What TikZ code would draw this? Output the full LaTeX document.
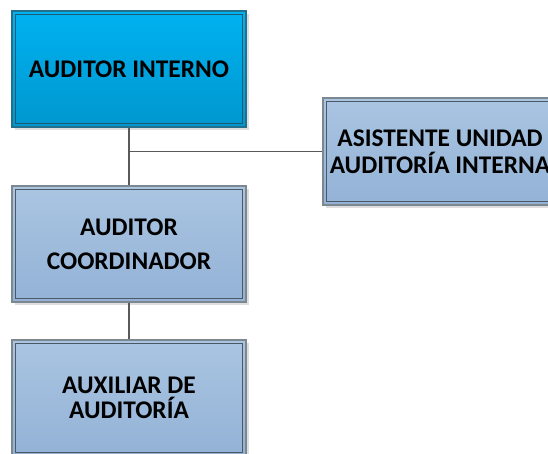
\documentclass[tikz,border=0pt]{standalone}
\usepackage{fontspec}
\setmainfont{Carlito}
\usetikzlibrary{shadows}
\definecolor{topblue}{HTML}{00B2F1}
\definecolor{botblue}{HTML}{0097CE}
\definecolor{bordblue}{HTML}{23708C}
\definecolor{innblue}{HTML}{1D5A72}
\definecolor{toplight}{HTML}{AAC5E2}
\definecolor{botlight}{HTML}{93B2D6}
\definecolor{bordgray}{HTML}{7D8790}
\definecolor{inngray}{HTML}{4C5864}
\definecolor{linegray}{HTML}{595959}
\definecolor{shadowgray}{HTML}{DEDEDE}
\tikzset{
  orgbox/.style={rectangle, minimum width=234pt, minimum height=116pt,
    inner sep=0pt, align=center, line width=1.5pt,
    drop shadow={shadow xshift=3pt, shadow yshift=-3pt, fill=shadowgray, opacity=1},
    path picture={\draw[line width=1pt, draw=#1]
      ([shift={(3.5pt,3.5pt)}]path picture bounding box.south west) rectangle
      ([shift={(-3.5pt,-3.5pt)}]path picture bounding box.north east);}},
  headbox/.style={orgbox=innblue, draw=bordblue, top color=topblue, bottom color=botblue},
  lightbox/.style={orgbox=inngray, draw=bordgray, top color=toplight, bottom color=botlight},
  link/.style={draw=linegray, line width=1.1pt}
}
\begin{document}
\begin{tikzpicture}[x=1pt,y=-1pt]
\useasboundingbox (0,0) rectangle (548,454);
\clip (0,0) rectangle (548,454);
\fill[white] (0,0) rectangle (548,454);
\node[headbox, font=\fontsize{25.4}{29}\selectfont\bfseries] (a) at (129,69) {AUDITOR INTERNO};
\node[lightbox, font=\fontsize{25.4}{34}\selectfont\bfseries] (b) at (129,244) {AUDITOR\\COORDINADOR};
\node[lightbox, font=\fontsize{25.4}{25}\selectfont\bfseries] (c) at (129,398) {AUXILIAR DE\\AUDITORÍA};
\node[lightbox, minimum height=107pt, font=\fontsize{25.4}{27}\selectfont\bfseries] (d) at (440,151.5) {ASISTENTE UNIDAD\\AUDITORÍA INTERNA};
\coordinate (j) at (a.south |- d.west);
\draw[link] (a.south) -- (b.north);
\draw[link] (b.south) -- (c.north);
\draw[link] (j) -- (d.west);
\end{tikzpicture}
\end{document}
